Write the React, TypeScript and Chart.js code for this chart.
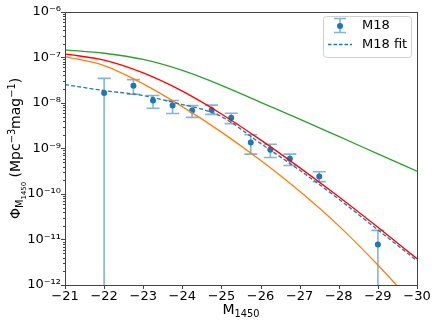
import React, { useEffect, useRef } from 'react';
import { Chart, registerables } from 'chart.js';

Chart.register(...registerables);

// ---------- data ----------
const curveMag = [-21, -22, -23, -24, -25, -26, -27, -28, -29, -30];
const greenPhi = [1.46e-7, 1.23e-7, 8.97e-8, 5.16e-8, 2.43e-8, 1.03e-8, 4.4e-9, 1.83e-9, 7.59e-10, 3.15e-10];
const redPhi = [1.19e-7, 8.65e-8, 4.54e-8, 1.81e-8, 5.71e-9, 1.54e-9, 3.78e-10, 8.65e-11, 1.85e-11, 3.78e-12];
const orangePhi = [1.04e-7, 6.58e-8, 2.62e-8, 8.28e-9, 2.28e-9, 5.47e-10, 1.14e-10, 1.99e-11, 2.74e-12, 3.16e-13];

const fitMag = [-21, -22, -23, -24, -24.5, -25, -26, -27, -28, -29, -30];
const fitPhi = [2.52e-8, 1.86e-8, 1.45e-8, 9.2e-9, 7.3e-9, 4.99e-9, 1.29e-9, 3.31e-10, 7.7e-11, 1.62e-11, 3.42e-12];

const m18Mag = [-22, -22.75, -23.25, -23.75, -24.25, -24.75, -25.25, -25.75, -26.25, -26.75, -27.5, -29];
const m18Phi = [1.65e-8, 2.39e-8, 1.13e-8, 8.75e-9, 6.8e-9, 7.0e-9, 4.7e-9, 1.34e-9, 9.3e-10, 5.9e-10, 2.42e-10, 7.8e-12];
const m18Hi = [3.45e-8, 3.24e-8, 1.45e-8, 1.13e-8, 8.75e-9, 8.9e-9, 5.9e-9, 2.0e-9, 1.23e-9, 7.5e-10, 3.07e-10, 1.58e-11];
const m18Lo = [1e-14, 1.55e-8, 7.6e-9, 5.86e-9, 4.8e-9, 5.6e-9, 3.5e-9, 7.5e-10, 6.3e-10, 4.2e-10, 1.86e-10, 1e-14];

const xTicks = [-21, -22, -23, -24, -25, -26, -27, -28, -29, -30];
const yTickExps = [-12, -11, -10, -9, -8, -7, -6];

const legendLabels = ['M18', 'M18 fit'];
// ---------------------------

const FONT = '"DejaVu Sans", sans-serif';
const C0 = '#1f77b4';
const ERR = 'rgba(31,119,180,0.55)';
const SUP: Record<string, string> = {
  '-': '\u207B', '0': '\u2070', '1': '\u00B9', '2': '\u00B2', '3': '\u00B3',
  '4': '\u2074', '5': '\u2075', '6': '\u2076', '7': '\u2077', '8': '\u2078', '9': '\u2079',
};
const supStr = (n: number) => String(n).split('').map((c) => SUP[c]).join('');

type Seg = { t: string; size: number; dy: number };
function drawSegs(ctx: CanvasRenderingContext2D, segs: Seg[], x: number, y: number) {
  let total = 0;
  for (const s of segs) {
    ctx.font = `${s.size}px ${FONT}`;
    total += ctx.measureText(s.t).width;
  }
  let cx = x - total / 2;
  for (const s of segs) {
    ctx.font = `${s.size}px ${FONT}`;
    ctx.fillText(s.t, cx, y + s.dy);
    cx += ctx.measureText(s.t).width;
  }
}

const customPlugin = {
  id: 'custom',
  beforeDatasetsDraw(chart: any) {
    const { ctx, chartArea: a } = chart;
    const xs = chart.scales.x;
    const ys = chart.scales.y;
    ctx.save();
    ctx.beginPath();
    ctx.rect(a.left, a.top, a.right - a.left, a.bottom - a.top);
    ctx.clip();
    ctx.strokeStyle = ERR;
    ctx.lineWidth = 1.6;
    for (let i = 0; i < m18Mag.length; i++) {
      const px = xs.getPixelForValue(m18Mag[i]);
      const yHi = ys.getPixelForValue(m18Hi[i]);
      const yLo = ys.getPixelForValue(m18Lo[i]);
      ctx.beginPath();
      ctx.moveTo(px, yHi);
      ctx.lineTo(px, yLo);
      ctx.moveTo(px - 6.5, yHi);
      ctx.lineTo(px + 6.5, yHi);
      ctx.moveTo(px - 6.5, yLo);
      ctx.lineTo(px + 6.5, yLo);
      ctx.stroke();
    }
    ctx.restore();
  },
  afterDraw(chart: any) {
    const { ctx, chartArea: a } = chart;
    const xs = chart.scales.x;
    const ys = chart.scales.y;
    ctx.save();
    // frame
    ctx.strokeStyle = '#444';
    ctx.lineWidth = 1;
    ctx.strokeRect(Math.round(a.left) + 0.5, Math.round(a.top) + 0.5, Math.round(a.right - a.left), Math.round(a.bottom - a.top));
    // x ticks
    ctx.beginPath();
    for (const v of xTicks) {
      const px = Math.round(xs.getPixelForValue(v)) + 0.5;
      ctx.moveTo(px, a.bottom);
      ctx.lineTo(px, a.bottom + 4);
    }
    // y ticks major + minor
    for (const e of yTickExps) {
      const py = Math.round(ys.getPixelForValue(Math.pow(10, e))) + 0.5;
      ctx.moveTo(a.left - 4, py);
      ctx.lineTo(a.left, py);
      if (e < yTickExps[yTickExps.length - 1]) {
        for (let k = 2; k <= 9; k++) {
          const pm = Math.round(ys.getPixelForValue(k * Math.pow(10, e))) + 0.5;
          ctx.moveTo(a.left - 2, pm);
          ctx.lineTo(a.left, pm);
        }
      }
    }
    ctx.stroke();

    // axis titles
    ctx.fillStyle = '#000';
    ctx.textBaseline = 'alphabetic';
    ctx.textAlign = 'left';
    drawSegs(ctx, [
      { t: 'M', size: 14, dy: 0 },
      { t: '1450', size: 9.8, dy: 3 },
    ], (a.left + a.right) / 2, 314);

    ctx.save();
    ctx.translate(20, (a.top + a.bottom) / 2);
    ctx.rotate(-Math.PI / 2);
    drawSegs(ctx, [
      { t: '\u03A6', size: 14, dy: 0 },
      { t: 'M', size: 9.8, dy: 3 },
      { t: '1450', size: 6.9, dy: 5.5 },
      { t: ' (Mpc', size: 14, dy: 0 },
      { t: '\u22123', size: 9.8, dy: -5.5 },
      { t: 'mag', size: 14, dy: 0 },
      { t: '\u22121', size: 9.8, dy: -5.5 },
      { t: ')', size: 14, dy: 0 },
    ], 0, 0);
    ctx.restore();

    // legend
    const lx = 323, ly = 16, lw = 88, lh = 41;
    ctx.fillStyle = 'rgba(255,255,255,0.8)';
    ctx.strokeStyle = '#d0d0d0';
    ctx.lineWidth = 1;
    ctx.beginPath();
    (ctx as any).roundRect(lx + 0.5, ly + 0.5, lw, lh, 3);
    ctx.fill();
    ctx.stroke();
    // errorbar icon
    const ix = 340, iy = 26;
    ctx.strokeStyle = ERR;
    ctx.lineWidth = 1.6;
    ctx.beginPath();
    ctx.moveTo(ix, iy - 7.5);
    ctx.lineTo(ix, iy + 6.5);
    ctx.moveTo(ix - 6, iy - 7.5);
    ctx.lineTo(ix + 6, iy - 7.5);
    ctx.moveTo(ix - 6, iy + 6.5);
    ctx.lineTo(ix + 6, iy + 6.5);
    ctx.stroke();
    ctx.fillStyle = C0;
    ctx.beginPath();
    ctx.arc(ix, iy, 3, 0, Math.PI * 2);
    ctx.fill();
    // dashed icon
    ctx.strokeStyle = C0;
    ctx.lineWidth = 1.3;
    ctx.setLineDash([3.5, 2]);
    ctx.beginPath();
    ctx.moveTo(328, 44.5);
    ctx.lineTo(352, 44.5);
    ctx.stroke();
    ctx.setLineDash([]);
    ctx.fillStyle = '#000';
    ctx.font = `13px ${FONT}`;
    ctx.textBaseline = 'middle';
    ctx.fillText(legendLabels[0], 362, iy);
    ctx.fillText(legendLabels[1], 362, 44.5);
    ctx.restore();
  },
};

const toXY = (xs: number[], ys: number[]) => xs.map((x, i) => ({ x, y: ys[i] }));

export default function App() {
  const ref = useRef<HTMLCanvasElement>(null);
  useEffect(() => {
    const lineDs = (label: string, xs: number[], ys: number[], color: string, order: number, extra: any = {}) => ({
      label,
      data: toXY(xs, ys),
      showLine: true,
      borderColor: color,
      backgroundColor: color,
      borderWidth: 1.3,
      pointRadius: 0,
      cubicInterpolationMode: 'monotone',
      order,
      ...extra,
    });
    const chart = new Chart(ref.current as HTMLCanvasElement, {
      type: 'scatter',
      data: {
        datasets: [
          {
            label: legendLabels[0],
            data: toXY(m18Mag, m18Phi),
            showLine: false,
            pointRadius: 3,
            pointBorderWidth: 0,
            backgroundColor: C0,
            borderColor: C0,
            order: 10,
          } as any,
          lineDs(legendLabels[1], fitMag, fitPhi, C0, 1, { borderDash: [4, 2.2] }),
          lineDs('red', curveMag, redPhi, '#ff0000', 2),
          lineDs('orange', curveMag, orangePhi, '#ff7f0e', 3),
          lineDs('green', curveMag, greenPhi, '#2ca02c', 4),
        ],
      },
      options: {
        responsive: false,
        animation: false,
        devicePixelRatio: 1,
        layout: { padding: { top: 10, right: 19, left: 0, bottom: 0 } },
        plugins: { legend: { display: false }, tooltip: { enabled: false } },
        scales: {
          x: {
            type: 'linear',
            min: -30,
            max: -21,
            reverse: true,
            grid: { display: false, drawTicks: false },
            border: { display: false },
            afterBuildTicks: (s: any) => { s.ticks = xTicks.map((v) => ({ value: v })); },
            afterFit: (s: any) => { s.height = 38; },
            ticks: {
              autoSkip: false,
              maxRotation: 0,
              padding: 4,
              color: '#000',
              font: { family: FONT, size: 13 },
              callback: (v: any) => (Number(v) < 0 ? '\u2212' : '') + Math.abs(Number(v)),
            },
          },
          y: {
            type: 'logarithmic',
            min: 1e-12,
            max: 1e-6,
            grid: { display: false, drawTicks: false },
            border: { display: false },
            afterBuildTicks: (s: any) => { s.ticks = yTickExps.map((e) => ({ value: Math.pow(10, e) })); },
            afterFit: (s: any) => { s.width = 65; },
            ticks: {
              autoSkip: false,
              padding: 4,
              color: '#000',
              font: { family: FONT, size: 13 },
              callback: (v: any) => '10' + supStr(Math.round(Math.log10(Number(v)))),
            },
          },
        },
      } as any,
      plugins: [customPlugin],
    });
    return () => chart.destroy();
  }, []);
  return (
    <div style={{ position: 'fixed', left: 0, top: 0, width: 436, height: 323, background: '#fff' }}>
      <canvas ref={ref} width={436} height={323} style={{ width: 436, height: 323, display: 'block' }} />
    </div>
  );
}
